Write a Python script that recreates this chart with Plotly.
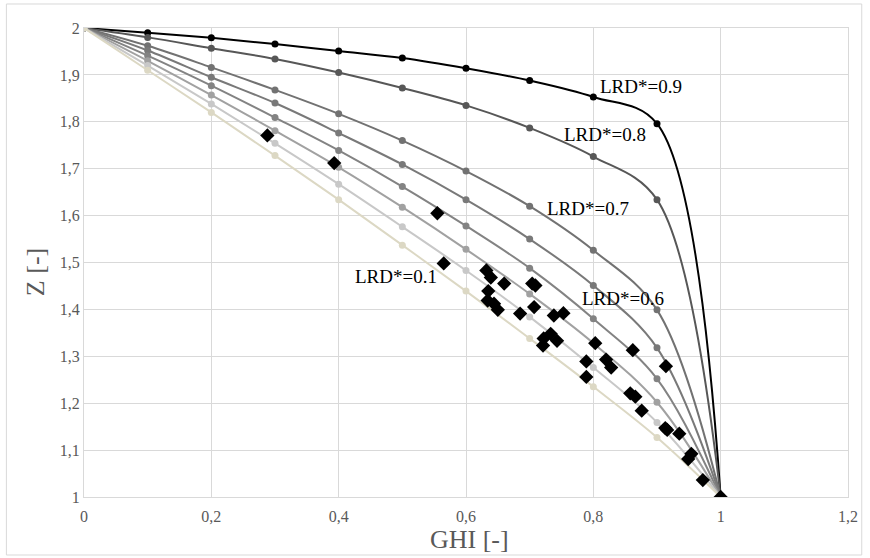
import plotly.graph_objects as go

# ---- data ----
ghi = [0.0, 0.1, 0.2, 0.3, 0.4, 0.5, 0.6, 0.7, 0.8, 0.9, 1.0]

series_names = ["LRD*=0.9", "LRD*=0.8", "LRD*=0.7", "LRD*=0.6",
                "LRD*=0.5", "LRD*=0.4", "LRD*=0.3", "LRD*=0.1"]
z_09 = [2.0, 1.990, 1.979, 1.966, 1.951, 1.936, 1.914, 1.888, 1.853, 1.796, 1.0]
z_08 = [2.0, 1.980, 1.957, 1.934, 1.905, 1.872, 1.835, 1.787, 1.726, 1.634, 1.0]
z_07 = [2.0, 1.962, 1.916, 1.868, 1.817, 1.760, 1.695, 1.620, 1.526, 1.399, 1.0]
z_06 = [2.0, 1.952, 1.895, 1.840, 1.776, 1.709, 1.634, 1.550, 1.451, 1.318, 1.0]
z_05 = [2.0, 1.941, 1.877, 1.809, 1.739, 1.662, 1.578, 1.488, 1.380, 1.252, 1.0]
z_04 = [2.0, 1.930, 1.857, 1.781, 1.703, 1.618, 1.528, 1.433, 1.328, 1.202, 1.0]
z_03 = [2.0, 1.920, 1.838, 1.754, 1.667, 1.576, 1.483, 1.384, 1.276, 1.159, 1.0]
z_01 = [2.0, 1.910, 1.820, 1.728, 1.634, 1.537, 1.439, 1.338, 1.235, 1.127, 1.0]
series_z = [z_09, z_08, z_07, z_06, z_05, z_04, z_03, z_01]

meas_ghi = [0.288, 0.393, 0.555, 0.565, 0.632, 0.639, 0.660, 0.704, 0.709,
            0.635, 0.634, 0.644, 0.650, 0.685, 0.707, 0.738, 0.753, 0.733,
            0.722, 0.743, 0.721, 0.803, 0.862, 0.789, 0.820, 0.828, 0.914,
            0.789, 0.858, 0.866, 0.876, 0.913, 0.916, 0.935, 0.949, 0.954,
            0.972, 1.000]
meas_z = [1.771, 1.712, 1.605, 1.498, 1.483, 1.468, 1.455, 1.455, 1.451,
          1.439, 1.419, 1.412, 1.399, 1.391, 1.405, 1.387, 1.392, 1.348,
          1.338, 1.333, 1.323, 1.328, 1.313, 1.289, 1.293, 1.276, 1.279,
          1.256, 1.221, 1.214, 1.184, 1.147, 1.143, 1.135, 1.081, 1.092,
          1.036, 1.000]

x_tickvals = [0, 0.2, 0.4, 0.6, 0.8, 1.0, 1.2]
x_ticktext = ["0", "0,2", "0,4", "0,6", "0,8", "1", "1,2"]
y_tickvals = [1.0, 1.1, 1.2, 1.3, 1.4, 1.5, 1.6, 1.7, 1.8, 1.9, 2.0]
y_ticktext = ["1", "1,1", "1,2", "1,3", "1,4", "1,5", "1,6", "1,7", "1,8", "1,9", "2"]

label_texts = ["LRD*=0.9", "LRD*=0.8", "LRD*=0.7", "LRD*=0.6", "LRD*=0.1"]

# ---- styles ----
colors = ["#000000", "#575757", "#727272", "#797979", "#838383",
          "#a1a1a1", "#c8c8c8", "#dcd8c4"]
SERIF = "Liberation Serif, Times New Roman, serif"

fig = go.Figure()
for name, z, c in zip(series_names, series_z, colors):
    fig.add_trace(go.Scatter(
        x=ghi, y=z, name=name, mode="lines+markers",
        line=dict(color=c, width=2, shape="spline", smoothing=1.0),
        marker=dict(color=c, size=7, symbol="circle"),
    ))

fig.add_trace(go.Scatter(
    x=meas_ghi, y=meas_z, name="measured", mode="markers",
    marker=dict(color="#000000", size=11, symbol="diamond"),
))

label_pos = [(0.875, 1.875), (0.818, 1.772), (0.791, 1.615), (0.846, 1.423), (0.490, 1.470)]
for t, (lx, ly) in zip(label_texts, label_pos):
    fig.add_annotation(x=lx, y=ly, text=t, showarrow=False,
                       font=dict(family=SERIF, size=19, color="#000000"),
                       xanchor="center", yanchor="middle")

# axis titles
fig.add_annotation(x=0.504, y=-0.09, xref="paper", yref="paper", text="GHI [-]",
                   showarrow=False, font=dict(family=SERIF, size=26, color="#595959"),
                   xanchor="center", yanchor="middle")
fig.add_annotation(x=-0.0625, y=0.48, xref="paper", yref="paper", text="Z [-]",
                   showarrow=False, textangle=-90,
                   font=dict(family=SERIF, size=26, color="#595959"),
                   xanchor="center", yanchor="middle")

grid = "#d9d9d9"
fig.update_xaxes(range=[0, 1.2], tickvals=x_tickvals, ticktext=x_ticktext,
                 showgrid=True, gridcolor=grid, gridwidth=1,
                 showline=True, linecolor=grid, linewidth=1, mirror=True,
                 zeroline=False, ticks="", ticklen=0, ticklabelstandoff=5,
                 tickfont=dict(family=SERIF, size=16, color="#595959"))
fig.update_yaxes(range=[1, 2], tickvals=y_tickvals, ticktext=y_ticktext,
                 showgrid=True, gridcolor=grid, gridwidth=1,
                 showline=True, linecolor=grid, linewidth=1, mirror=True,
                 zeroline=False, ticks="", ticklen=0,
                 tickfont=dict(family=SERIF, size=16, color="#595959"))

fig.add_shape(type="rect", xref="paper", yref="paper",
              x0=-0.1016, x1=1.018, y0=-0.1237, y1=1.0512,
              line=dict(color="#d9d9d9", width=1), layer="below")

fig.update_layout(
    width=870, height=558,
    margin=dict(l=84, r=18, t=28, b=61),
    paper_bgcolor="#ffffff", plot_bgcolor="#ffffff",
    showlegend=False,
)

fig.write_html("out.html", config={"displayModeBar": False},
               post_script="document.body.style.margin='0';document.body.style.overflow='hidden';")
